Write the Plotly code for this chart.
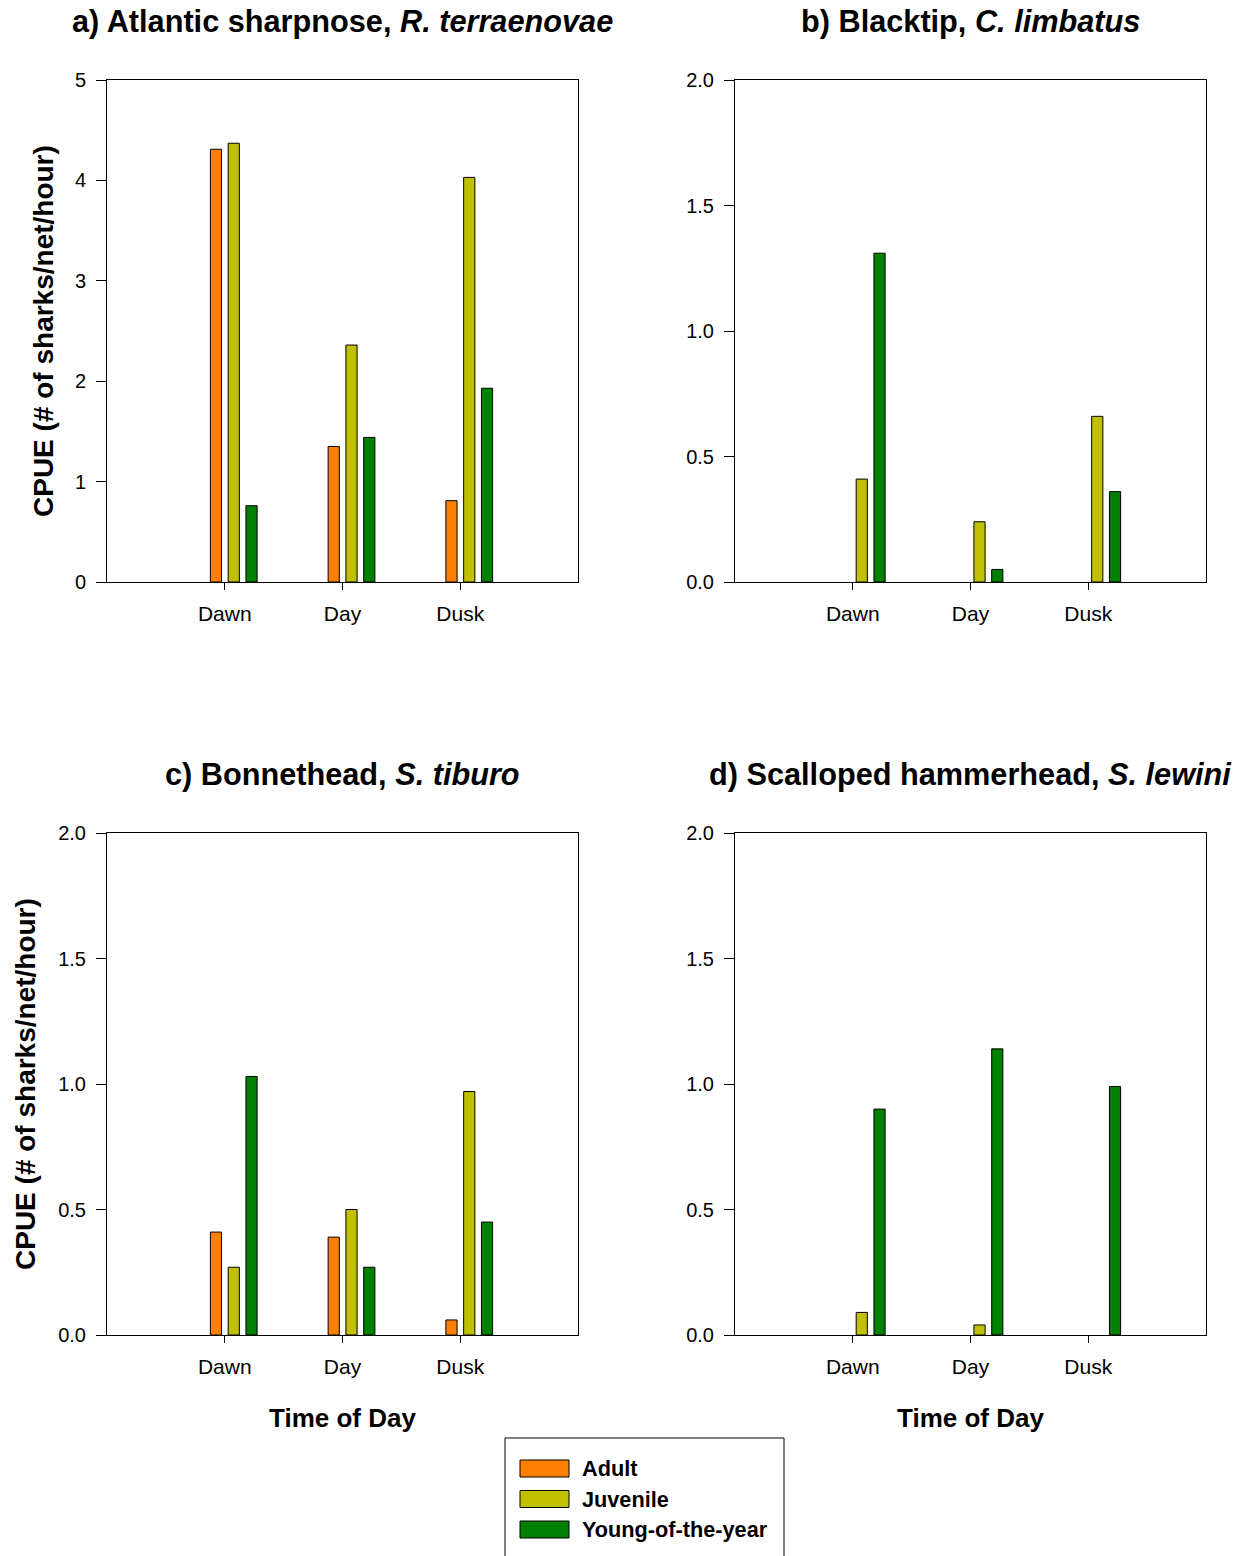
import plotly.graph_objects as go

W, H = 1244, 1556

categories = ["Dawn", "Day", "Dusk"]
series_names = ["Adult", "Juvenile", "Young-of-the-year"]
series_colors = ["#FF8000", "#C0C000", "#008000"]

# panel a) Atlantic sharpnose
a_adult = [4.31, 1.35, 0.81]
a_juv = [4.37, 2.36, 4.03]
a_yoy = [0.76, 1.44, 1.93]
# panel b) Blacktip
b_adult = [None, None, None]
b_juv = [0.41, 0.24, 0.66]
b_yoy = [1.31, 0.05, 0.36]
# panel c) Bonnethead
c_adult = [0.41, 0.39, 0.06]
c_juv = [0.27, 0.50, 0.97]
c_yoy = [1.03, 0.27, 0.45]
# panel d) Scalloped hammerhead
d_adult = [None, None, None]
d_juv = [0.09, 0.04, None]
d_yoy = [0.90, 1.14, 0.99]

panel_titles = [
    "a) Atlantic sharpnose, <i>R. terraenovae</i>",
    "b) Blacktip, <i>C. limbatus</i>",
    "c) Bonnethead, <i>S. tiburo</i>",
    "d) Scalloped hammerhead, <i>S. lewini</i>",
]
y_ranges = [[0, 5], [0, 2], [0, 2], [0, 2]]
y_dticks = [1, 0.5, 0.5, 0.5]
y_formats = ["d", ".1f", ".1f", ".1f"]
y_title = "CPUE (# of sharks/net/hour)"
x_title = "Time of Day"

panels = [
    [a_adult, a_juv, a_yoy],
    [b_adult, b_juv, b_yoy],
    [c_adult, c_juv, c_yoy],
    [d_adult, d_juv, d_yoy],
]

FONT = "Liberation Sans, Arial, sans-serif"

# pixel layout of plot areas (left, right, top, bottom)
boxes = [
    (107, 578, 80, 582),
    (735, 1206, 80, 582),
    (107, 578, 833, 1335),
    (735, 1206, 833, 1335),
]

bar_offsets = [-0.122, 0.029, 0.180]
bar_width = 0.095

fig = go.Figure()
layout = dict(
    width=W, height=H,
    margin=dict(l=0, r=0, t=0, b=0, pad=0, autoexpand=False),
    paper_bgcolor="white", plot_bgcolor="white",
    showlegend=False,
    barmode="overlay",
    font=dict(family=FONT, color="black"),
)
annotations = []
shapes = []

for i, (vals, box) in enumerate(zip(panels, boxes)):
    n = "" if i == 0 else str(i + 1)
    xa, ya = "x" + n, "y" + n
    for s in range(3):
        fig.add_trace(go.Bar(
            x=categories, y=vals[s], name=series_names[s],
            xaxis=xa, yaxis=ya,
            offset=bar_offsets[s], width=bar_width,
            marker=dict(color=series_colors[s], line=dict(color="black", width=1)),
        ))
    l, r, t, b = box
    layout["xaxis" + n] = dict(
        domain=[l / W, r / W], anchor=ya,
        type="category", categoryorder="array", categoryarray=categories,
        range=[-1, 3], automargin=False,
        showline=True, linecolor="black", linewidth=1, mirror=True,
        ticks="outside", ticklen=7, tickcolor="black", tickwidth=1,
        tickfont=dict(size=21, family=FONT, color="black"),
        ticklabelstandoff=6,
        showgrid=False, zeroline=False,
    )
    layout["yaxis" + n] = dict(
        domain=[1 - b / H, 1 - t / H], anchor=xa,
        range=y_ranges[i], dtick=y_dticks[i], tick0=0, tickformat=y_formats[i],
        automargin=False,
        showline=True, linecolor="black", linewidth=1, mirror=True,
        ticks="outside", ticklen=10, tickcolor="black", tickwidth=1,
        tickfont=dict(size=20, family=FONT, color="black"),
        ticklabelstandoff=6,
        showgrid=False, zeroline=False,
    )
    cx = (l + r) / 2
    ty = 22 if i < 2 else 775
    annotations.append(dict(
        text="<b>" + panel_titles[i] + "</b>", x=cx / W, y=1 - ty / H,
        xref="paper", yref="paper", xanchor="center", yanchor="middle",
        showarrow=False, font=dict(size=30.7, family=FONT, color="black"),
    ))

# y-axis titles (left column)
for px, cy in [(43, 331), (25, 1084)]:
    annotations.append(dict(
        text="<b>" + y_title + "</b>", x=px / W, y=1 - cy / H,
        xref="paper", yref="paper", xanchor="center", yanchor="middle",
        textangle=-90, showarrow=False,
        font=dict(size=28, family=FONT, color="black"),
    ))
# x-axis titles (bottom row)
for cx in [342.5, 970.5]:
    annotations.append(dict(
        text="<b>" + x_title + "</b>", x=cx / W, y=1 - 1418 / H,
        xref="paper", yref="paper", xanchor="center", yanchor="middle",
        showarrow=False, font=dict(size=26, family=FONT, color="black"),
    ))

# legend box (extends past bottom edge)
shapes.append(dict(type="rect", xref="paper", yref="paper",
                   x0=505 / W, x1=784 / W, y0=1 - 1600 / H, y1=1 - 1438 / H,
                   line=dict(color="black", width=1), fillcolor="white"))
for k in range(3):
    cy = 1468.5 + k * 30.5
    shapes.append(dict(type="rect", xref="paper", yref="paper",
                       x0=520 / W, x1=569 / W,
                       y0=1 - (cy + 8.5) / H, y1=1 - (cy - 8.5) / H,
                       line=dict(color="black", width=1),
                       fillcolor=series_colors[k]))
    annotations.append(dict(
        text="<b>" + series_names[k] + "</b>", x=580 / W, y=1 - cy / H,
        xref="paper", yref="paper", xanchor="left", yanchor="middle",
        showarrow=False, font=dict(size=21.7, family=FONT, color="black"),
    ))

layout["annotations"] = annotations
layout["shapes"] = shapes
fig.update_layout(**layout)
fig.write_html("out.html")
